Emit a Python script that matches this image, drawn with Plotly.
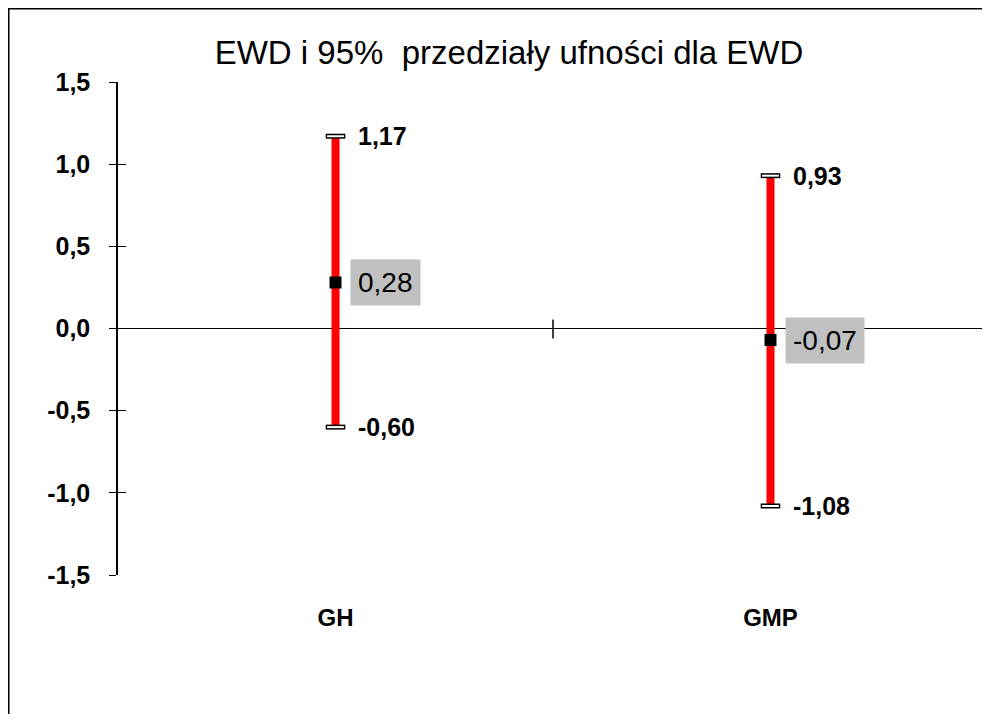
import plotly.graph_objects as go

categories = ["GH", "GMP"]
ewd = [0.28, -0.07]
lower = [-0.60, -1.08]
upper = [1.17, 0.93]

y_ticks = [-1.5, -1.0, -0.5, 0.0, 0.5, 1.0, 1.5]


def pl(v):
    # polish decimal comma
    return f"{v:.2f}".replace(".", ",")


FONT = "Liberation Sans, Arial, sans-serif"

# the html page body has an 8px margin, so the figure is a bit smaller
W, H = 982, 706
L, R, T, B = 110, 2, 74, 139

fig = go.Figure()

# EWD point with red confidence interval
fig.add_trace(go.Scatter(
    x=categories,
    y=ewd,
    mode="markers",
    marker=dict(symbol="square", color="black", size=12),
    error_y=dict(
        type="data",
        symmetric=False,
        array=[u - m for u, m in zip(upper, ewd)],
        arrayminus=[m - l for m, l in zip(ewd, lower)],
        color="red",
        thickness=8,
        width=0,
    ),
    showlegend=False,
    hoverinfo="skip",
))

# small white caps with black outline at the interval ends
fig.add_trace(go.Scatter(
    x=categories + categories,
    y=lower + upper,
    mode="markers",
    marker=dict(symbol="line-ew", size=14, line=dict(color="black", width=5)),
    yaxis="y2",
    showlegend=False,
    hoverinfo="skip",
))
fig.add_trace(go.Scatter(
    x=categories + categories,
    y=lower + upper,
    mode="markers",
    marker=dict(symbol="line-ew", size=12, line=dict(color="white", width=2)),
    yaxis="y2",
    showlegend=False,
    hoverinfo="skip",
))

# value labels
for c, m, lo, hi in zip(categories, ewd, lower, upper):
    fig.add_annotation(x=c, y=hi, text=pl(hi), showarrow=False,
                       xanchor="left", yanchor="middle", xshift=20,
                       font=dict(family=FONT, size=25, color="black", weight="bold"))
    fig.add_annotation(x=c, y=lo, text=pl(lo), showarrow=False,
                       xanchor="left", yanchor="middle", xshift=20,
                       font=dict(family=FONT, size=25, color="black", weight="bold"))
    fig.add_annotation(x=c, y=m, text=pl(m), showarrow=False,
                       xanchor="left", yanchor="middle", xshift=14,
                       bgcolor="#c0c0c0", borderpad=7,
                       font=dict(family=FONT, size=28, color="black"))

# tick marks on the zero line (the zero line sits mid-height, range is symmetric)
zero_paper = (0 - y_ticks[0]) / (y_ticks[-1] - y_ticks[0])
for xp, xoff in [(0.5, 0), (1.0, -1)]:
    fig.add_shape(type="line", xref="paper", yref="paper",
                  xsizemode="pixel", xanchor=xp, x0=xoff, x1=xoff,
                  ysizemode="pixel", yanchor=zero_paper, y0=-10, y1=9,
                  line=dict(color="black", width=1.5))

# outer chart border
pw, ph = W - L - R, H - T - B
fig.add_shape(type="rect", xref="paper", yref="paper",
              x0=(0.75 - L) / pw, x1=(W + 5 - L) / pw,
              y0=-(H + 5 - T - ph) / ph, y1=(H - B - 0.75) / ph,
              line=dict(color="black", width=1.5), fillcolor="rgba(0,0,0,0)")

fig.update_layout(
    width=W, height=H,
    margin=dict(l=L, r=R, t=T, b=B),
    paper_bgcolor="white",
    plot_bgcolor="white",
    title=dict(
        text="EWD i 95%\u00a0 przedziały ufności dla EWD",
        x=(509 - 8) / W, xref="container", xanchor="center",
        y=1 - (52 - 8) / H, yref="container", yanchor="middle",
        font=dict(family=FONT, size=33, color="black"),
    ),
    xaxis=dict(
        type="category",
        range=[-0.5, 1.5],
        showgrid=False, showline=False, zeroline=False,
        ticks="", ticklabelstandoff=26,
        tickfont=dict(family=FONT, size=24, color="black", weight="bold"),
    ),
    yaxis=dict(
        range=[-1.5, 1.5],
        tickvals=y_ticks,
        ticktext=[f"{v:.1f}".replace(".", ",") for v in y_ticks],
        showgrid=False,
        showline=True, linecolor="black", linewidth=1.5,
        zeroline=True, zerolinecolor="black", zerolinewidth=1,
        ticks="outside", ticklen=7, tickcolor="black", tickwidth=1,
        ticklabelstandoff=14,
        tickfont=dict(family=FONT, size=25, color="black", weight="bold"),
    ),
    yaxis2=dict(
        overlaying="y", side="left",
        range=[-1.5, 1.5],
        tickvals=y_ticks,
        showticklabels=False, showgrid=False, showline=False, zeroline=False,
        ticks="inside", ticklen=8, tickcolor="black", tickwidth=1,
    ),
)

fig.write_html("out.html")
